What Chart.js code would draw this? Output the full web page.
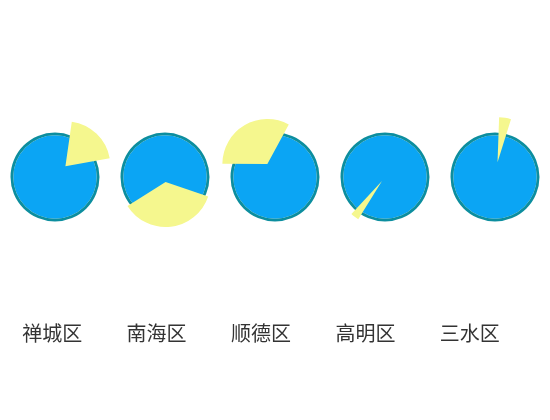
<!DOCTYPE html>
<html>
<head>
<meta charset="utf-8">
<script src="https://cdn.jsdelivr.net/npm/chart.js@4/dist/chart.umd.min.js"></script>
<style>
  html, body { margin: 0; padding: 0; background: #fff; }
  #wrap { position: relative; width: 550px; height: 420px; }
  #wrap canvas { position: absolute; }
</style>
</head>
<body>
<div id="wrap">
  <canvas id="axisChart" width="550" height="420" style="left:0;top:0"></canvas>
</div>
<script>
// district names (x axis labels)
var districts = ['禅城区', '南海区', '顺德区', '高明区', '三水区'];
// share of each district, percent (yellow slice)
var shares = [20, 36, 33, 3.5, 5.4];
var total = 100;
// where each yellow slice starts, degrees clockwise from top
var startAngles = [8, 108.5, 270, 211, 0];
// how far each yellow slice is pulled out, px
var pullOut = [15, 5, 15, 5, 15];

var blue = '#0ba5f4';
var blueBorder = '#0c8e9f';
var yellow = '#f5f78e';
var FONT = '"Noto Sans CJK SC", "Noto Sans", sans-serif';

document.addEventListener('DOMContentLoaded', function () {
    // category axis carrying the district names
    new Chart(document.getElementById('axisChart'), {
        type: 'bar',
        data: { labels: districts, datasets: [] },
        options: {
            responsive: false,
            animation: false,
            layout: { padding: { left: 0, right: 28, top: 0, bottom: 72 } },
            plugins: { legend: { display: false }, tooltip: { enabled: false } },
            scales: {
                x: {
                    grid: { display: false },
                    border: { display: false },
                    ticks: { color: '#333', maxRotation: 0, font: { family: FONT, size: 20 } }
                },
                y: { display: false }
            }
        }
    });

    var wrap = document.getElementById('wrap');
    for (var i = 0; i < districts.length; i++) {
        var left = 55 + 110 * i - 75;
        var top = 177 - 75;

        // whole circle: teal ring around a blue disc
        createChart(makeCanvas(wrap, left, top), 0, 44.5, [
            { data: [total], backgroundColor: blueBorder, borderWidth: 0, weight: 2.8 },
            { data: [total], backgroundColor: blue, borderWidth: 0, weight: 41.7 }
        ]);

        // the district's slice, pulled out of the circle
        // chart.js grows a pulled slice by offset/4 * (1 - sin(angle)); keep its edge at 45px
        var span = shares[i] / total * 2 * Math.PI;
        var r = 45 - pullOut[i] * (1 - Math.sin(Math.min(Math.PI, span)));
        createChart(makeCanvas(wrap, left, top), startAngles[i], r, [{
            data: [shares[i], total - shares[i]],
            backgroundColor: [yellow, 'rgba(0,0,0,0)'],
            borderWidth: 0,
            offset: [pullOut[i] * 4, 0]
        }]);
    }

    function makeCanvas(parent, left, top) {
        var c = document.createElement('canvas');
        c.width = 150;
        c.height = 150;
        c.style.left = left + 'px';
        c.style.top = top + 'px';
        parent.appendChild(c);
        return c;
    }

    function createChart(canvas, rotation, radius, datasets) {
        new Chart(canvas, {
            type: 'pie',
            data: { datasets: datasets },
            options: {
                responsive: false,
                animation: false,
                events: [],
                rotation: rotation,
                radius: radius,
                layout: { padding: 0 },
                plugins: { legend: { display: false }, tooltip: { enabled: false } }
            }
        });
    }
});
</script>
</body>
</html>
